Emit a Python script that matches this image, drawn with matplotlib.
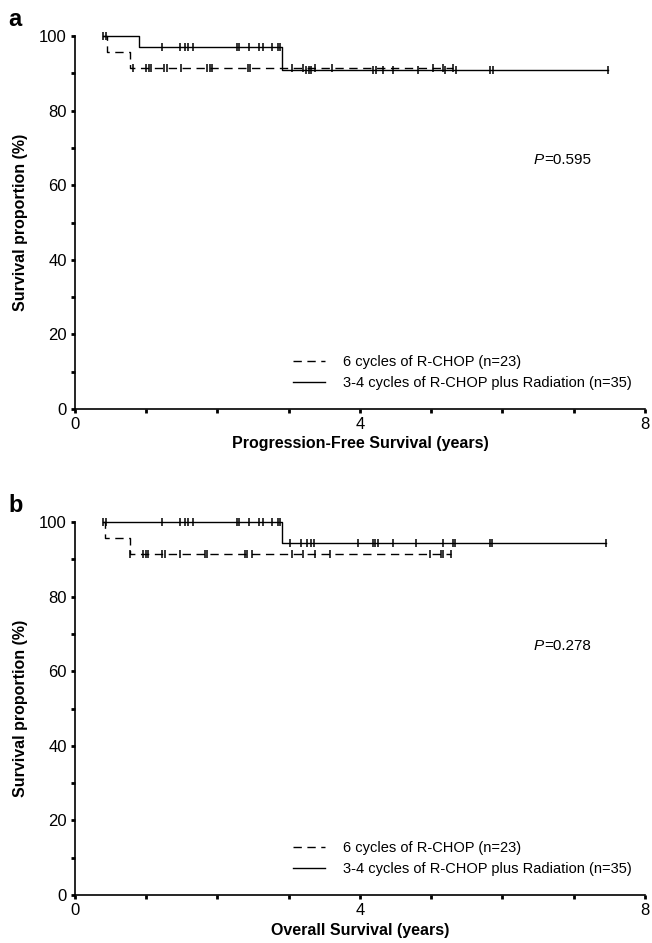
import matplotlib
matplotlib.use('Agg')
import matplotlib.pyplot as plt
import numpy as np

plt.rcParams['font.family'] = ['Liberation Sans', 'DejaVu Sans']

# step curves (time in years, survival %)
pfs_chop_t = [0.40, 0.45, 0.77, 5.31]
pfs_chop_s = [100, 95.7, 91.3, 91.3]
pfs_rt_t = [0.40, 0.90, 2.90, 7.48]
pfs_rt_s = [100, 97.1, 91.0, 91.0]
os_chop_t = [0.40, 0.42, 0.77, 5.28]
os_chop_s = [100, 95.7, 91.3, 91.3]
os_rt_t = [0.40, 2.90, 7.46]
os_rt_s = [100, 94.3, 94.3]

# censored times
pfs_chop_cens = [0.82, 1.00, 1.04, 1.07, 1.25, 1.29, 1.49, 1.85, 1.89, 1.93,
                 2.43, 2.46, 3.05, 3.20, 3.37, 3.61, 5.02, 5.17, 5.31]
pfs_rt_cens = [0.40, 0.44, 1.22, 1.47, 1.54, 1.58, 1.66, 2.27, 2.30, 2.45,
               2.58, 2.64, 2.76, 2.85, 2.88, 3.25, 3.29, 3.32, 4.19, 4.22,
               4.32, 4.47, 4.81, 5.20, 5.35, 5.83, 5.87, 7.48]
os_chop_cens = [0.77, 0.96, 1.00, 1.03, 1.22, 1.26, 1.47, 1.82, 1.85, 2.38,
                2.42, 2.48, 3.05, 3.20, 3.37, 3.58, 4.98, 5.14, 5.16, 5.28]
os_rt_cens = [0.40, 0.44, 1.22, 1.47, 1.54, 1.58, 1.66, 2.27, 2.30, 2.45,
              2.58, 2.64, 2.76, 2.85, 2.88, 3.02, 3.17, 3.26, 3.31, 3.35,
              3.97, 4.19, 4.21, 4.25, 4.46, 4.79, 5.17, 5.31, 5.34, 5.82,
              5.86, 7.45]

labels = ['6 cycles of R-CHOP (n=23)',
          '3-4 cycles of R-CHOP plus Radiation (n=35)']
panels = [('a', 'Progression-Free Survival (years)', 'P=0.595',
           (pfs_chop_t, pfs_chop_s, pfs_chop_cens),
           (pfs_rt_t, pfs_rt_s, pfs_rt_cens)),
          ('b', 'Overall Survival (years)', 'P=0.278',
           (os_chop_t, os_chop_s, os_chop_cens),
           (os_rt_t, os_rt_s, os_rt_cens))]


def level(t, ts, ss):
    i = np.searchsorted(ts, t, side='right') - 1
    return np.array(ss)[np.clip(i, 0, len(ss) - 1)]


fig = plt.figure(figsize=(6.52, 9.43), dpi=100)
bottoms = [0.5663, 0.0509]

for (letter, xlab, ptxt, chop, rt), b in zip(panels, bottoms):
    ax = fig.add_axes([0.115, b, 0.874, 0.3955])
    styles = [dict(ls=(0, (6, 4))), dict(ls='-')]
    for (ts, ss, cens), st, lab in zip([chop, rt], styles, labels):
        ax.plot(ts, ss, drawstyle='steps-post', color='black', lw=1.0,
                clip_on=False, label=lab, **st)
        c = np.array(cens)
        ax.plot(c, level(c, ts, ss), ls='none', marker='|', ms=6,
                mew=1.1, color='black', clip_on=False)
    ax.set_xlim(0, 8)
    ax.set_ylim(0, 100)
    for s in ['top', 'right']:
        ax.spines[s].set_visible(False)
    ax.spines['left'].set_linewidth(1.2)
    ax.spines['bottom'].set_linewidth(1.2)
    ax.set_xticks([0, 4, 8])
    ax.set_xticks([1, 2, 3, 5, 6, 7], minor=True)
    ax.set_yticks([0, 20, 40, 60, 80, 100])
    ax.set_yticks([10, 30, 50, 70, 90], minor=True)
    ax.tick_params(which='both', direction='out', length=3, width=2,
                   labelsize=12, pad=3)
    ax.set_xlabel(xlab, fontsize=11.5, fontweight='bold', labelpad=3)
    ax.set_ylabel('Survival proportion (%)', fontsize=11.5,
                  fontweight='bold', labelpad=8)
    ax.text(0.805, 0.667, ptxt.split('=')[0], style='italic', fontsize=11,
            transform=ax.transAxes, ha='left', va='center')
    ax.text(0.823, 0.667, '=' + ptxt.split('=')[1], fontsize=11,
            transform=ax.transAxes, ha='left', va='center')
    ax.legend(loc='lower right', bbox_to_anchor=(1.0, 0.015), frameon=False,
              fontsize=10.5, handlelength=2.2, handletextpad=1.2,
              labelspacing=0.5)
    fig.text(0.013, b + 0.3955 + 0.018, letter, fontsize=17,
             fontweight='bold', ha='left', va='center')

fig.savefig('out.png', dpi=100)
